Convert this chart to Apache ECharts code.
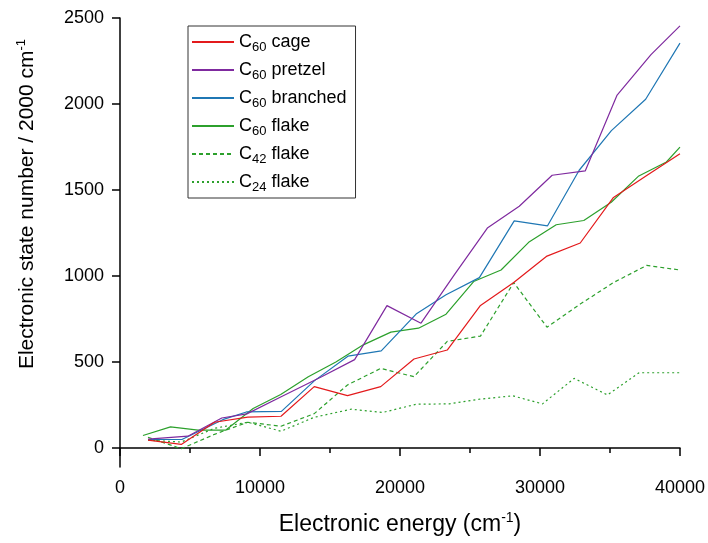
<!DOCTYPE html>
<html><head><meta charset="utf-8">
<script src="https://cdn.jsdelivr.net/npm/echarts@6/dist/echarts.min.js"></script>
<style>html,body{margin:0;padding:0;background:#fff}#c{width:708px;height:543px}</style>
</head><body><div id="c"></div>
<script>
// ---- data ----
const seriesNames = ['C60 cage', 'C60 pretzel', 'C60 branched', 'C60 flake', 'C42 flake', 'C24 flake'];

const cageX = [2000,4375,6750,9125,11500,13875,16250,18625,21000,23375,25750,28125,30500,32875,35250,37625,40000];
const cageY = [46,21,150,180,185,357,305,357,518,570,829,962,1116,1192,1457,1584,1711];

const pretzelX = [2000,4850,7270,9060,11550,14400,16760,19070,21500,23890,26240,28520,30870,33230,35510,37930,40000];
const pretzelY = [52,69,175,199,300,415,514,828,726,1008,1279,1406,1586,1611,2052,2287,2454];

const branchedX = [2000,4420,7340,9030,11530,13900,16280,18660,21150,23290,25670,28160,30540,32800,35100,37550,40000];
const branchedY = [50,50,165,210,213,392,534,565,779,891,991,1321,1292,1615,1845,2028,2354];

const flake60X = [1640,3610,5580,7540,9510,11480,13450,15420,17380,19350,21320,23290,25260,27220,29190,31160,33130,35090,37060,39030,40000];
const flake60Y = [73,123,104,104,230,311,415,500,600,674,697,778,968,1035,1196,1298,1323,1429,1582,1663,1749];

const flake42X = [2000,4375,6750,9125,11500,13875,16250,18625,21000,23375,25750,28125,30500,32875,35250,37625,40000];
const flake42Y = [63,-4,80,150,127,200,367,463,415,620,651,962,703,837,962,1062,1035];

const flake24X = [2000,4375,6750,9125,11500,13875,16520,18770,21160,23530,25670,28040,30180,32440,34820,37080,40000];
const flake24Y = [46,35,115,150,98,179,226,207,255,257,284,304,257,405,309,438,438];

const xTicks = [0, 10000, 20000, 30000, 40000];
const yTicks = [0, 500, 1000, 1500, 2000, 2500];

// ---- styling ----
const FONT = "'Liberation Sans', Arial, sans-serif";
const colors = ['#e31a1c', '#7f2a9f', '#1f77b4', '#2ca02c', '#2ca02c', '#2ca02c'];
const dashes = ['solid', 'solid', 'solid', 'solid', [4, 3], [2, 3]];
const xs = [cageX, pretzelX, branchedX, flake60X, flake42X, flake24X];
const ys = [cageY, pretzelY, branchedY, flake60Y, flake42Y, flake24Y];

const pairs = (x, y) => x.map((v, i) => [v, y[i]]);
const plain = v => String(v);

const chart = echarts.init(document.getElementById('c'), null, {renderer: 'canvas'});
chart.setOption({
  animation: false,
  backgroundColor: '#fff',
  textStyle: {fontFamily: FONT},
  grid: {left: 120, right: 27, top: 18, bottom: 72, containLabel: false},
  xAxis: {
    type: 'value', min: 0, max: 40000, interval: 10000,
    name: 'Electronic energy (cm{sup|-1})',
    nameLocation: 'middle', nameGap: 44,
    nameTextStyle: {fontSize: 23, color: '#000', fontFamily: FONT, lineHeight: 27,
      rich: {sup: {fontSize: 14, lineHeight: 15, padding: [0, 0, 12, 0], color: '#000', fontFamily: FONT}}},
    axisLine: {show: true, lineStyle: {color: '#000', width: 1.5}},
    axisTick: {show: true, inside: false, length: 8, lineStyle: {color: '#000', width: 1.5}},
    minorTick: {show: true, splitNumber: 2, length: 5, lineStyle: {color: '#000', width: 1.5}},
    splitLine: {show: false}, minorSplitLine: {show: false},
    axisLabel: {fontSize: 18, color: '#000', margin: 12, fontFamily: FONT,
      customValues: xTicks, formatter: plain}
  },
  yAxis: {
    type: 'value', min: -110, max: 2500,
    axisLine: {show: true, lineStyle: {color: '#000', width: 1.5}},
    axisTick: {show: true, inside: false, length: 8, lineStyle: {color: '#000', width: 1.5}, customValues: yTicks},
    axisLabel: {fontSize: 18, color: '#000', margin: 16, fontFamily: FONT, customValues: yTicks, formatter: plain},
    splitLine: {show: false}
  },
  legend: {
    orient: 'vertical', left: 188, top: 26,
    itemWidth: 42, itemHeight: 14, itemGap: 4,
    padding: [4, 9, 4, 3],
    borderColor: '#333', borderWidth: 1, backgroundColor: '#fff',
    itemStyle: {opacity: 0},
    data: seriesNames,
    formatter: n => n.replace(/^C(\d+)/, 'C{sub|$1}'),
    textStyle: {fontSize: 18, color: '#000', fontFamily: FONT, lineHeight: 20,
      rich: {sub: {fontSize: 13, lineHeight: 13, padding: [11, 0, 0, 0], color: '#000', fontFamily: FONT}}}
  },
  graphic: [{
    type: 'text', x: 27, y: 204, rotation: Math.PI / 2,
    style: {
      text: 'Electronic state number / 2000 cm{sup|-1}',
      fontSize: 21, fontFamily: FONT, fill: '#000', lineHeight: 25,
      align: 'center', verticalAlign: 'middle',
      rich: {sup: {fontSize: 13, lineHeight: 14, padding: [0, 0, 11, 0], fill: '#000', fontFamily: FONT}}
    }
  }],
  series: seriesNames.map((n, i) => ({
    name: n, type: 'line', symbol: 'none', clip: true,
    data: pairs(xs[i], ys[i]),
    color: colors[i],
    lineStyle: {color: colors[i], width: 1.2, type: dashes[i]},
    z: 6 - i
  }))
});
</script></body></html>
